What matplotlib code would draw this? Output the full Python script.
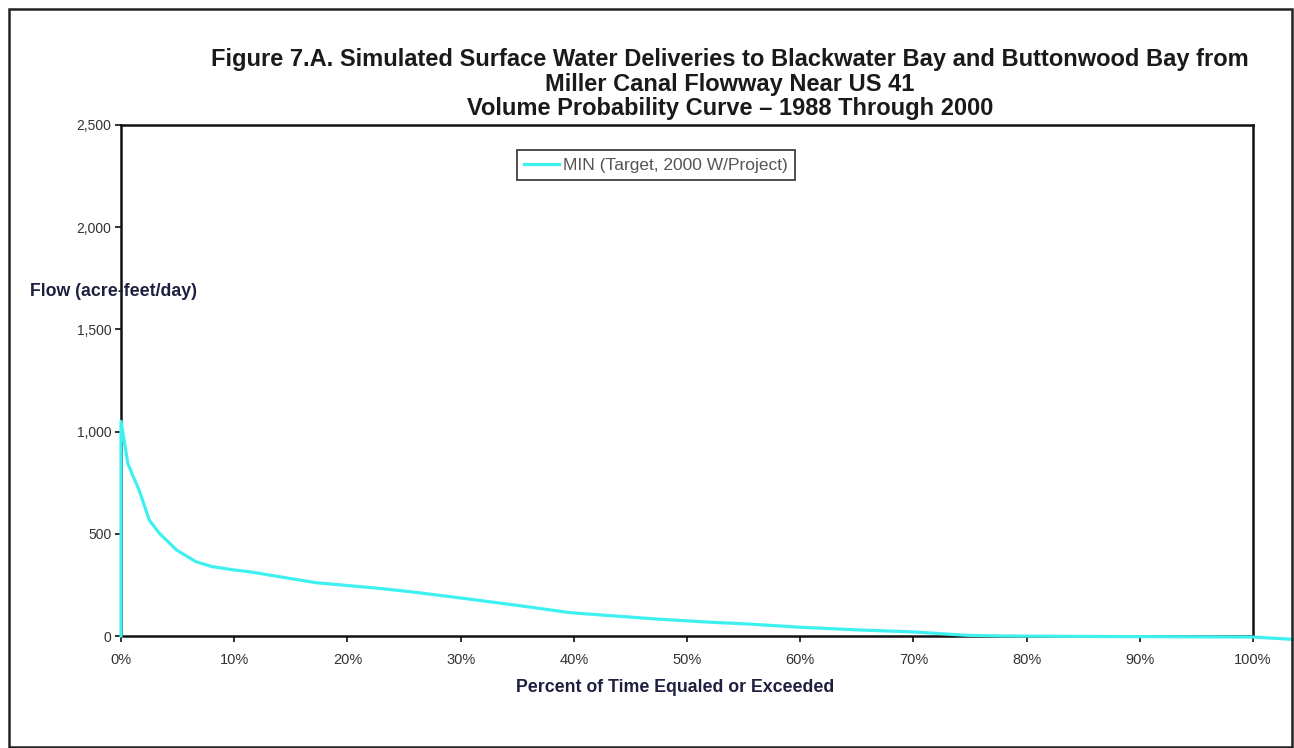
import matplotlib
matplotlib.use("Agg")
from matplotlib import pyplot as plt
from matplotlib.patches import Rectangle
from matplotlib.ticker import FuncFormatter

"""
Volume probability curve, Miller Canal Flowway near US 41
"""

# Curve (percent of time, acre-feet/day)
pct_time = [0, 0, 0.3, 0.6, 1.0, 1.6, 2.5, 3.4, 4.9, 6.6, 8.0, 10, 11.4, 14,
            17.2, 22.8, 25.5, 30.3, 35, 39.7, 46.8, 51.2, 55.6, 60, 65, 70,
            74.8, 78, 85, 90, 95, 100, 104]
flow = [0, 1050, 950, 845, 790, 714, 567, 502, 421, 364, 340, 323, 314, 290,
        261, 233, 217, 184, 150, 114, 85, 70, 58, 43, 30, 20,
        3, 0, -2, -3, -4, -5, -18]

y_ticks = [0, 500, 1000, 1500, 2000, 2500]
x_ticks = [0, 10, 20, 30, 40, 50, 60, 70, 80, 90, 100]

TITLE = ("Figure 7.A. Simulated Surface Water Deliveries to Blackwater Bay and Buttonwood Bay from\n"
         "Miller Canal Flowway Near US 41\n"
         "Volume Probability Curve \u2013 1988 Through 2000")
SERIES = "MIN (Target, 2000 W/Project)"
CYAN = "#3ff0f0"


def main():
    plt.rcParams["font.family"] = ["Liberation Sans", "DejaVu Sans"]
    fig = plt.figure(figsize=(12.94, 7.48), dpi=100)
    W, H = 1294, 748

    # outer frame
    fig.patches.append(Rectangle((9 / W, 1 - 747 / H), 1283 / W, 738 / H,
                                 transform=fig.transFigure, fill=False,
                                 edgecolor="#222222", linewidth=1.8))

    ax = fig.add_axes([121 / W, 1 - 636 / H, 1132 / W, 511 / H])
    ax.plot(pct_time, flow, color=CYAN, linewidth=2.3, label=SERIES,
            clip_on=False, zorder=3)

    ax.set_xlim(0, 100)
    ax.set_ylim(0, 2500)
    ax.set_xticks(x_ticks)
    ax.set_yticks(y_ticks)
    ax.xaxis.set_major_formatter(FuncFormatter(lambda v, p: f"{v:.0f}%"))
    ax.yaxis.set_major_formatter(FuncFormatter(lambda v, p: f"{v:,.0f}"))
    ax.tick_params(direction="out", length=4, width=1.3, colors="#222222",
                   labelcolor="#333333")
    ax.tick_params(axis="x", pad=8, labelsize=10.5)
    ax.tick_params(axis="y", pad=3, labelsize=10)
    for s in ax.spines.values():
        s.set_linewidth(1.8)
        s.set_color("#111111")

    leg = ax.legend(loc="center", bbox_to_anchor=(0.4726, 0.9217),
                    fontsize=12.5, frameon=True, fancybox=False,
                    handlelength=2.0, borderpad=0.42, handletextpad=0.25,
                    borderaxespad=0)
    leg.get_frame().set_edgecolor("#111111")
    leg.get_frame().set_linewidth(1.3)
    for t in leg.get_texts():
        t.set_color("#555555")

    fig.text(730 / W, 1 - 84 / H, TITLE, ha="center", va="center",
             fontsize=17, fontweight="bold", color="#1a1a1a",
             linespacing=1.08)
    fig.text(30 / W, 1 - 291 / H, "Flow (acre-feet/day)", ha="left",
             va="center", fontsize=12.8, fontweight="bold", color="#1f2040")
    fig.text(675 / W, 1 - 688 / H, "Percent of Time Equaled or Exceeded",
             ha="center", va="center", fontsize=12.8, fontweight="bold",
             color="#1f2040")

    fig.savefig("out.png", dpi=100)


if __name__ == '__main__':
    main()
